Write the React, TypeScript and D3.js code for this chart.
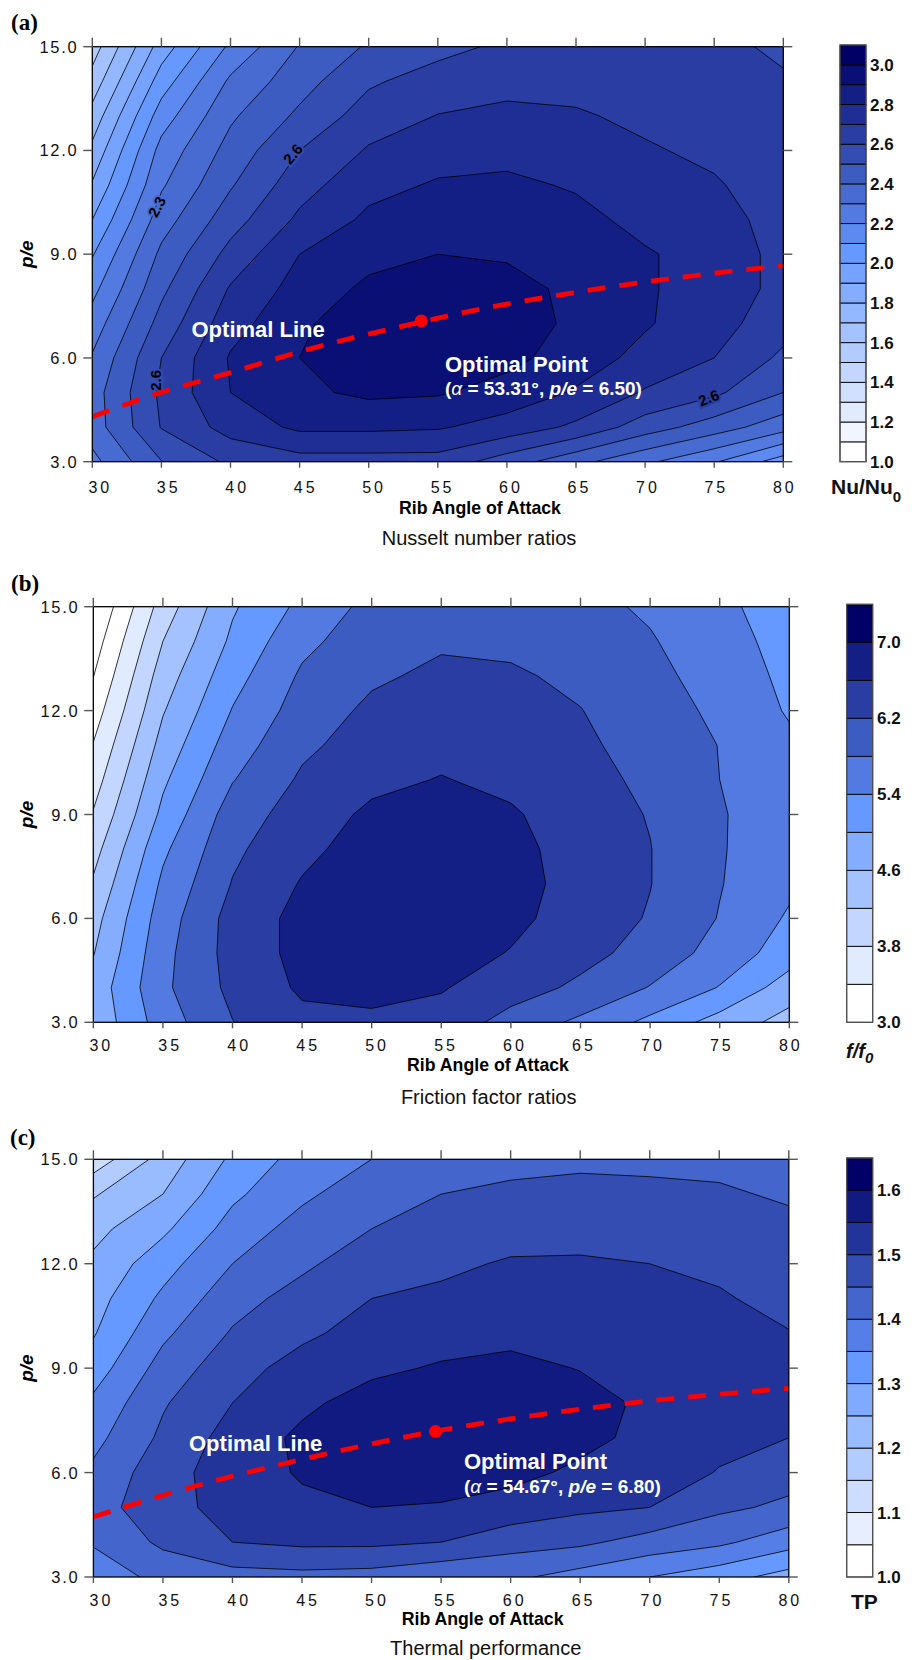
import React from "react";
import * as d3 from "d3";

const SANS = "'Liberation Sans', Arial, Helvetica, sans-serif";
const SERIF = "'Liberation Serif', 'Times New Roman', serif";

// grid axes
const ALPHA = [30, 35, 40, 45, 50, 55, 60, 65, 70, 75, 80];
const PE = [3, 4, 5, 6, 7, 8, 9, 10, 11, 12, 13, 14, 15];
const X_TICKS = [30, 35, 40, 45, 50, 55, 60, 65, 70, 75, 80];
const Y_TICKS = [3, 6, 9, 12, 15];

// (a) Nu/Nu0 — rows: p/e 3 → 15, columns: alpha 30 → 80
const NU_GRID = [
  [2.27, 2.497, 2.62, 2.66, 2.66, 2.66, 2.55, 2.43, 2.32, 2.21, 2.05],
  [2.35, 2.605, 2.74, 2.82, 2.82, 2.81, 2.76, 2.68, 2.55, 2.45, 2.34],
  [2.355, 2.62, 2.80, 2.88, 2.92, 2.91, 2.86, 2.79, 2.69, 2.62, 2.50],
  [2.31, 2.60, 2.81, 2.90, 2.96, 2.96, 2.93, 2.85, 2.77, 2.70, 2.58],
  [2.245, 2.537, 2.76, 2.88, 2.97, 2.98, 2.95, 2.88, 2.81, 2.74, 2.64],
  [2.17, 2.477, 2.71, 2.84, 2.92, 2.96, 2.93, 2.88, 2.81, 2.76, 2.67],
  [2.092, 2.423, 2.633, 2.80, 2.87, 2.90, 2.89, 2.86, 2.81, 2.76, 2.67],
  [2.0, 2.353, 2.557, 2.72, 2.82, 2.86, 2.85, 2.83, 2.77, 2.74, 2.66],
  [1.91, 2.287, 2.49, 2.66, 2.77, 2.81, 2.82, 2.79, 2.74, 2.71, 2.65],
  [1.825, 2.235, 2.437, 2.60, 2.71, 2.76, 2.77, 2.75, 2.71, 2.68, 2.64],
  [1.737, 2.15, 2.384, 2.52, 2.648, 2.703, 2.73, 2.71, 2.68, 2.66, 2.63],
  [1.64, 2.05, 2.318, 2.46, 2.585, 2.645, 2.66, 2.67, 2.66, 2.645, 2.615],
  [1.55, 1.947, 2.22, 2.407, 2.512, 2.568, 2.62, 2.64, 2.64, 2.635, 2.575],
];
const NU_LEVELS = [1.0, 1.1, 1.2, 1.3, 1.4, 1.5, 1.6, 1.7, 1.8, 1.9, 2.0, 2.1, 2.2, 2.3, 2.4, 2.5, 2.6, 2.7, 2.8, 2.9, 3.0, 3.1];
const NU_BAR_TICKS = [1.0, 1.2, 1.4, 1.6, 1.8, 2.0, 2.2, 2.4, 2.6, 2.8, 3.0];

// (b) f/f0
const FR_GRID = [
  [4.70, 5.60, 6.19, 6.50, 6.52, 6.45, 6.05, 5.72, 5.30, 4.84, 4.45],
  [4.75, 5.72, 6.30, 6.66, 6.72, 6.63, 6.38, 6.12, 5.78, 5.38, 4.80],
  [4.58, 5.68, 6.35, 6.72, 6.82, 6.78, 6.58, 6.33, 6.05, 5.65, 5.20],
  [4.45, 5.60, 6.35, 6.72, 6.88, 6.86, 6.70, 6.42, 6.17, 5.78, 5.35],
  [4.25, 5.48, 6.22, 6.63, 6.85, 6.88, 6.75, 6.45, 6.21, 5.82, 5.48],
  [4.05, 5.32, 6.12, 6.50, 6.78, 6.86, 6.72, 6.43, 6.21, 5.83, 5.55],
  [3.83, 5.10, 6.00, 6.38, 6.68, 6.78, 6.65, 6.38, 6.18, 5.83, 5.58],
  [3.62, 4.93, 5.78, 6.26, 6.50, 6.62, 6.50, 6.33, 6.12, 5.80, 5.55],
  [3.42, 4.75, 5.60, 6.12, 6.38, 6.48, 6.42, 6.27, 6.05, 5.79, 5.48],
  [3.20, 4.57, 5.42, 5.98, 6.28, 6.38, 6.32, 6.21, 5.98, 5.72, 5.36],
  [2.99, 4.40, 5.25, 5.86, 6.14, 6.28, 6.25, 6.12, 5.90, 5.65, 5.30],
  [2.80, 4.20, 5.08, 5.70, 6.02, 6.15, 6.12, 6.02, 5.83, 5.58, 5.24],
  [2.60, 3.98, 4.95, 5.50, 5.92, 6.02, 6.00, 5.90, 5.75, 5.50, 5.18],
];
const FR_LEVELS = [3.0, 3.4, 3.8, 4.2, 4.6, 5.0, 5.4, 5.8, 6.2, 6.6, 7.0, 7.4];
const FR_BAR_TICKS = [3.0, 3.8, 4.6, 5.4, 6.2, 7.0];

// (c) TP
const TP_GRID = [
  [1.37, 1.415, 1.43, 1.435, 1.43, 1.41, 1.41, 1.38, 1.35, 1.32, 1.28],
  [1.405, 1.46, 1.50, 1.51, 1.51, 1.50, 1.47, 1.46, 1.43, 1.41, 1.37],
  [1.43, 1.48, 1.52, 1.54, 1.55, 1.545, 1.53, 1.51, 1.50, 1.46, 1.44],
  [1.41, 1.48, 1.525, 1.555, 1.58, 1.58, 1.565, 1.54, 1.52, 1.498, 1.47],
  [1.385, 1.46, 1.52, 1.56, 1.59, 1.595, 1.585, 1.565, 1.535, 1.51, 1.50],
  [1.36, 1.445, 1.50, 1.54, 1.57, 1.59, 1.585, 1.57, 1.54, 1.52, 1.51],
  [1.325, 1.42, 1.48, 1.52, 1.54, 1.555, 1.565, 1.548, 1.535, 1.52, 1.51],
  [1.296, 1.39, 1.455, 1.49, 1.52, 1.53, 1.535, 1.53, 1.52, 1.515, 1.502],
  [1.28, 1.36, 1.43, 1.47, 1.50, 1.51, 1.52, 1.52, 1.51, 1.505, 1.485],
  [1.26, 1.33, 1.40, 1.44, 1.48, 1.49, 1.505, 1.505, 1.50, 1.49, 1.47],
  [1.235, 1.29, 1.37, 1.42, 1.45, 1.47, 1.48, 1.485, 1.48, 1.47, 1.46],
  [1.195, 1.25, 1.34, 1.39, 1.43, 1.45, 1.46, 1.465, 1.46, 1.455, 1.445],
  [1.12, 1.22, 1.31, 1.37, 1.40, 1.42, 1.435, 1.44, 1.44, 1.44, 1.43],
];
const TP_LEVELS = [1.0, 1.05, 1.1, 1.15, 1.2, 1.25, 1.3, 1.35, 1.4, 1.45, 1.5, 1.55, 1.6, 1.65];
const TP_BAR_TICKS = [1.0, 1.1, 1.2, 1.3, 1.4, 1.5, 1.6];

// optimal lines (alpha, p/e)
const OPT_A_ALPHA = [30, 34.4, 40.2, 45, 53.9, 56.6, 63.8, 71, 80];
const OPT_A_PE = [4.3, 4.93, 5.6, 6.18, 7.05, 7.29, 7.82, 8.25, 8.67];
const OPT_A_POINT = [53.8, 7.07];
const OPT_C_ALPHA = [30, 37.2, 44.8, 54.5, 67.6, 80];
const OPT_C_PE = [4.73, 5.6, 6.36, 7.18, 7.95, 8.42];
const OPT_C_POINT = [54.6, 7.18];

const LOW = "#ffffff";
const MID = "#6699ff";
const HIGH = "#000066";
function bandColor(i: number, n: number) {
  const t = n > 1 ? i / (n - 1) : 0;
  return t <= 0.5
    ? d3.interpolateRgb(LOW, MID)(t / 0.5)
    : d3.interpolateRgb(MID, HIGH)((t - 0.5) / 0.5);
}

function sampleGrid(grid: number[][], a: number, pe: number) {
  const fx = Math.max(0, Math.min(ALPHA.length - 1.0001, (a - ALPHA[0]) / (ALPHA[1] - ALPHA[0])));
  const fy = Math.max(0, Math.min(PE.length - 1.0001, (pe - PE[0]) / (PE[1] - PE[0])));
  const i = Math.floor(fx), j = Math.floor(fy);
  const u = fx - i, v = fy - j;
  return (
    grid[j][i] * (1 - u) * (1 - v) +
    grid[j][i + 1] * u * (1 - v) +
    grid[j + 1][i] * (1 - u) * v +
    grid[j + 1][i + 1] * u * v
  );
}

const fmt1 = (v: number) => v.toFixed(1);

function Panel({ cfg }: { cfg: any }) {
  const { id, box, grid, levels, barTicks, bar } = cfg;
  const xs = d3.scaleLinear().domain([30, 80]).range([box.x0, box.x1]);
  const ys = d3.scaleLinear().domain([3, 15]).range([box.y1, box.y0]);
  const nb = levels.length - 1;
  const thresholds = levels.slice(0, nb);
  const contours = d3
    .contours()
    .size([ALPHA.length, PE.length])
    .thresholds(thresholds)(grid.flat());
  const da = ALPHA[1] - ALPHA[0];
  const dp = PE[1] - PE[0];
  const gx = (c: number) => xs(ALPHA[0] + (c - 0.5) * da);
  const gy = (r: number) => ys(PE[0] + (r - 0.5) * dp);
  const toPath = (mp: any) =>
    mp.coordinates
      .map((poly: any) =>
        poly
          .map(
            (ring: any) =>
              "M" +
              ring
                .map((p: number[]) => gx(p[0]).toFixed(2) + "," + gy(p[1]).toFixed(2))
                .join("L") +
              "Z"
          )
          .join("")
      )
      .join("");
  const yb = d3.scaleLinear().domain([levels[0], levels[nb]]).range([bar.bottom, bar.top]);
  const clipId = `clip-${id}`;
  const line = d3
    .line<number>()
    .x((_, i) => xs(cfg.optAlpha ? cfg.optAlpha[i] : 0))
    .y((_, i) => ys(cfg.optPe ? cfg.optPe[i] : 0))
    .curve(d3.curveMonotoneX);
  const bandOf = (v: number) => {
    let k = 0;
    for (let i = 0; i < nb; i++) if (v >= levels[i]) k = i;
    return k;
  };

  return (
    <g>
      <defs>
        <clipPath id={clipId}>
          <rect x={box.x0} y={box.y0} width={box.x1 - box.x0} height={box.y1 - box.y0} />
        </clipPath>
      </defs>
      <text x={cfg.letterX} y={cfg.letterY} fontFamily={SERIF} fontWeight="bold" fontSize={23}>
        {cfg.letter}
      </text>
      <g clipPath={`url(#${clipId})`}>
        <rect x={box.x0} y={box.y0} width={box.x1 - box.x0} height={box.y1 - box.y0} fill={bandColor(0, nb)} />
        {contours.map((c: any, k: number) => (
          <path key={"f" + k} d={toPath(c)} fill={bandColor(k, nb)} fillRule="evenodd" stroke="none" />
        ))}
        {contours.map((c: any, k: number) => (
          <path key={"l" + k} d={toPath(c)} fill="none" stroke="#000" strokeWidth={0.8} strokeLinejoin="round" />
        ))}
      </g>
      {/* contour labels */}
      {(cfg.contourLabels || []).map((l: any, i: number) => (
        <text
          key={"cl" + i}
          transform={`translate(${xs(l.a)},${ys(l.pe)}) rotate(${l.rot})`}
          textAnchor="middle"
          dominantBaseline="central"
          fontFamily={SANS}
          fontWeight="bold"
          fontSize={15}
          fill="#000"
          stroke={bandColor(bandOf(sampleGrid(grid, l.a, l.pe)), nb)}
          strokeWidth={4}
          paintOrder="stroke"
        >
          {l.text}
        </text>
      ))}
      <g clipPath={`url(#${clipId})`}>
        {cfg.optAlpha && (
          <path
            d={line(cfg.optAlpha) || ""}
            fill="none"
            stroke="#ff0000"
            strokeWidth={4.8}
            strokeDasharray="18 14"
          />
        )}
        {cfg.optPoint && (
          <circle cx={xs(cfg.optPoint[0])} cy={ys(cfg.optPoint[1])} r={6.5} fill="#ff0000" />
        )}
      </g>
      {/* frame */}
      <rect x={box.x0} y={box.y0} width={box.x1 - box.x0} height={box.y1 - box.y0} fill="none" stroke="#000" strokeWidth={1.3} />
      {/* ticks */}
      {X_TICKS.map((t) => (
        <g key={"xt" + t}>
          <line x1={xs(t)} x2={xs(t)} y1={box.y0} y2={box.y0 - 9} stroke="#555" strokeWidth={1.4} />
          <line x1={xs(t)} x2={xs(t)} y1={box.y1} y2={box.y1 + 6} stroke="#555" strokeWidth={1.4} />
          <text
            x={xs(t) + (80 - t) * 0.13 + 1.5}
            y={cfg.xLabelY}
            textAnchor="middle"
            fontFamily={SANS}
            fontSize={16}
            letterSpacing={3}
            fill="#111"
          >
            {t}
          </text>
        </g>
      ))}
      {Y_TICKS.map((t) => (
        <g key={"yt" + t}>
          <line x1={box.x0} x2={box.x0 - 9} y1={ys(t)} y2={ys(t)} stroke="#555" strokeWidth={1.4} />
          <line x1={box.x1} x2={box.x1 + 9} y1={ys(t)} y2={ys(t)} stroke="#555" strokeWidth={1.4} />
          <text
            x={box.x0 - 14}
            y={ys(t) + 6}
            textAnchor="end"
            fontFamily={SANS}
            fontSize={16.5}
            letterSpacing={1.7}
            fill="#111"
          >
            {fmt1(t)}
          </text>
        </g>
      ))}
      <text
        transform={`translate(33,${(box.y0 + box.y1) / 2}) rotate(-90)`}
        textAnchor="middle"
        fontFamily={SANS}
        fontWeight="bold"
        fontStyle="italic"
        fontSize={19}
      >
        p/e
      </text>
      <text x={cfg.titleX} y={cfg.titleY} textAnchor="middle" fontFamily={SANS} fontWeight="bold" fontSize={17.7}>
        Rib Angle of Attack
      </text>
      <text x={cfg.captionX} y={cfg.captionY} textAnchor="middle" fontFamily={SANS} fontSize={20} fill="#111">
        {cfg.caption}
      </text>
      {/* optimal annotations */}
      {cfg.optTexts && (
        <g fill="#fff" fontFamily={SANS} fontWeight="bold">
          <text x={cfg.optTexts.lineX} y={cfg.optTexts.lineY} fontSize={22}>
            Optimal Line
          </text>
          <text x={cfg.optTexts.pointX} y={cfg.optTexts.pointY} fontSize={22}>
            Optimal Point
          </text>
          <text x={cfg.optTexts.pointX} y={cfg.optTexts.subY} fontSize={19}>
            (<tspan fontStyle="italic" fontWeight="normal">α</tspan>
            {" = " + cfg.optTexts.aVal + "°, "}
            <tspan fontStyle="italic">p/e</tspan>
            {" = " + cfg.optTexts.pVal + ")"}
          </text>
        </g>
      )}
      {/* colorbar */}
      <g>
        {d3.range(nb).map((i) => (
          <rect
            key={"cb" + i}
            x={bar.x}
            y={yb(levels[i + 1])}
            width={bar.w}
            height={yb(levels[i]) - yb(levels[i + 1])}
            fill={bandColor(i, nb)}
            stroke="#000"
            strokeWidth={0.9}
          />
        ))}
        <rect x={bar.x} y={bar.top} width={bar.w} height={bar.bottom - bar.top} fill="none" stroke="#555" strokeWidth={1.2} />
        {barTicks.map((t: number) => (
          <text key={"bt" + t} x={bar.labelX} y={yb(t) + 6} fontFamily={SANS} fontWeight="bold" fontSize={17} fill="#111">
            {fmt1(t)}
          </text>
        ))}
        {cfg.barTitle}
      </g>
    </g>
  );
}

const PANELS = [
  {
    id: "a",
    letter: "(a)",
    letterX: 11,
    letterY: 30,
    grid: NU_GRID,
    levels: NU_LEVELS,
    barTicks: NU_BAR_TICKS,
    box: { x0: 92.3, x1: 783.3, y0: 46.7, y1: 461.7 },
    bar: { x: 840, w: 26, top: 45, bottom: 461.7, labelX: 870 },
    xLabelY: 493,
    titleX: 480,
    titleY: 513.5,
    caption: "Nusselt number ratios",
    captionX: 479,
    captionY: 545,
    optAlpha: OPT_A_ALPHA,
    optPe: OPT_A_PE,
    optPoint: OPT_A_POINT,
    optTexts: { lineX: 191.5, lineY: 336.5, pointX: 445, pointY: 371.5, subY: 394.5, aVal: "53.31", pVal: "6.50" },
    contourLabels: [
      { text: "2.3", a: 34.66, pe: 10.37, rot: -62 },
      { text: "2.6", a: 44.5, pe: 11.9, rot: -50 },
      { text: "2.6", a: 34.6, pe: 5.35, rot: -90 },
      { text: "2.6", a: 74.6, pe: 4.85, rot: -22 },
    ],
    barTitle: (
      <text x={831} y={494} fontFamily={SANS} fontWeight="bold" fontSize={21} fill="#111">
        Nu/Nu
        <tspan fontSize={15} dy={7.5}>
          0
        </tspan>
      </text>
    ),
  },
  {
    id: "b",
    letter: "(b)",
    letterX: 11,
    letterY: 591,
    grid: FR_GRID,
    levels: FR_LEVELS,
    barTicks: FR_BAR_TICKS,
    box: { x0: 93.3, x1: 789.3, y0: 606.7, y1: 1022.3 },
    bar: { x: 846.7, w: 26, top: 604.3, bottom: 1022.3, labelX: 877 },
    xLabelY: 1051,
    titleX: 488,
    titleY: 1071,
    caption: "Friction factor ratios",
    captionX: 488.7,
    captionY: 1104,
    barTitle: (
      <text x={846} y={1058} fontFamily={SANS} fontWeight="bold" fontStyle="italic" fontSize={20} fill="#111">
        f/f
        <tspan fontSize={15} dy={5}>
          0
        </tspan>
      </text>
    ),
  },
  {
    id: "c",
    letter: "(c)",
    letterX: 10,
    letterY: 1145,
    grid: TP_GRID,
    levels: TP_LEVELS,
    barTicks: TP_BAR_TICKS,
    box: { x0: 93.4, x1: 788.8, y0: 1159.3, y1: 1577 },
    bar: { x: 846.7, w: 26, top: 1158, bottom: 1577, labelX: 877 },
    xLabelY: 1606,
    titleX: 482.6,
    titleY: 1624.5,
    caption: "Thermal performance",
    captionX: 485.7,
    captionY: 1655,
    optAlpha: OPT_C_ALPHA,
    optPe: OPT_C_PE,
    optPoint: OPT_C_POINT,
    optTexts: { lineX: 189, lineY: 1451, pointX: 464, pointY: 1468.5, subY: 1493, aVal: "54.67", pVal: "6.80" },
    barTitle: (
      <text x={851} y={1609} fontFamily={SANS} fontWeight="bold" fontSize={21} fill="#111">
        TP
      </text>
    ),
  },
];

export default function App() {
  return (
    <svg
      width={921}
      height={1660}
      viewBox="0 0 921 1660"
      style={{ position: "absolute", left: 0, top: 0, background: "#fff" }}
      xmlns="http://www.w3.org/2000/svg"
    >
      <rect x={0} y={0} width={921} height={1660} fill="#fff" />
      {PANELS.map((p) => (
        <Panel key={p.id} cfg={p} />
      ))}
    </svg>
  );
}
